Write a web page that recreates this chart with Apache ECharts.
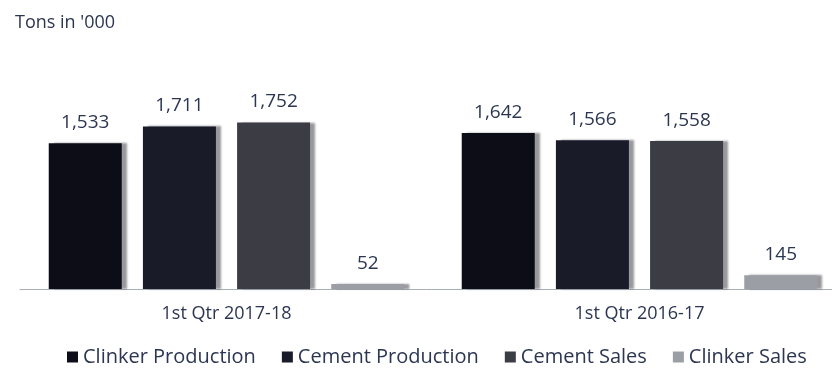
<!DOCTYPE html>
<html>
<head>
<meta charset="utf-8">
<script src="https://cdn.jsdelivr.net/npm/echarts@6/dist/echarts.min.js"></script>
<style>
  html, body { margin: 0; padding: 0; background: #fff; }
  #chart { width: 832px; height: 369px; }
</style>
</head>
<body>
<div id="chart"></div>
<script>
const categories = ["1st Qtr 2017-18", "1st Qtr 2016-17"];
const seriesNames = ["Clinker Production", "Cement Production", "Cement Sales", "Clinker Sales"];
const clinkerProduction = [1533, 1642];
const cementProduction = [1711, 1566];
const cementSales = [1752, 1558];
const clinkerSales = [52, 145];

const seriesData = [clinkerProduction, cementProduction, cementSales, clinkerSales];
const colors = ["#0c0d16", "#191b29", "#3c3d44", "#9c9ea6"];
const textColor = "#2c3652";

const chart = echarts.init(document.getElementById("chart"));

const option = {
  animation: false,
  title: {
    text: "Tons in '000",
    left: 10,
    top: 9,
    textStyle: { color: textColor, fontSize: 18, fontWeight: "normal", fontFamily: "Open Sans" },
  },
  legend: {
    data: seriesNames,
    bottom: -3,
    left: 62,
    itemWidth: 11,
    itemHeight: 11,
    itemGap: 26,
    icon: "rect",
    textStyle: { color: textColor, fontSize: 20, fontFamily: "Open Sans" },
  },
  grid: {
    left: 20,
    width: 826,
    top: 99,
    bottom: 80,
    outerBoundsMode: "none",
  },
  xAxis: {
    type: "category",
    data: categories,
    axisLine: { lineStyle: { color: "#a9adb5", width: 1 } },
    axisTick: { show: false },
    axisLabel: { color: textColor, fontSize: 18, margin: 16, fontFamily: "Open Sans" },
  },
  yAxis: {
    type: "value",
    min: 0,
    max: 2000,
    show: false,
    splitLine: { show: false },
  },
  series: seriesData.map((d, i) => ({
    name: seriesNames[i],
    type: "bar",
    data: d,
    barWidth: 73,
    barGap: "29%",
    itemStyle: {
      color: colors[i],
      shadowColor: "rgba(70,70,75,0.55)",
      shadowOffsetX: 5,
      shadowBlur: 2,
    },
    label: {
      show: true,
      position: "top",
      distance: 11,
      color: textColor,
      fontSize: 19,
      fontFamily: "Open Sans",
      formatter: (p) => p.value.toLocaleString("en-US"),
    },
  })),
};

chart.setOption(option);
</script>
</body>
</html>
